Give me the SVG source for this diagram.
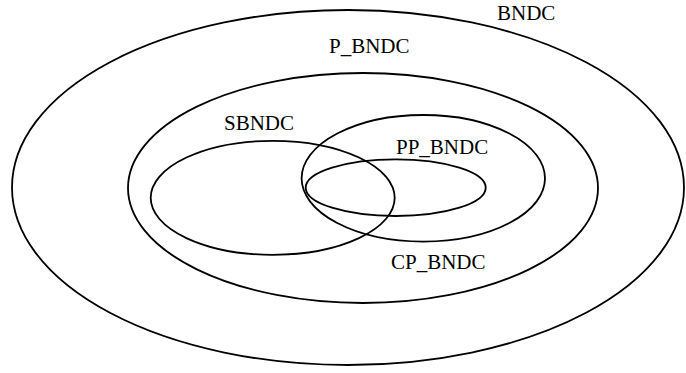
<svg xmlns="http://www.w3.org/2000/svg" width="686" height="373" viewBox="0 0 686 373">
  <style>
    .set { fill: none; stroke: #000; stroke-width: 1.8; }
    .lbl { font-family: "Liberation Serif", "Times New Roman", serif; font-size: 21px; fill: #000; }
  </style>
  <rect width="686" height="373" fill="#fff"/>
  <g id="BNDC">
    <ellipse class="set" cx="348" cy="187.5" rx="336" ry="177.5"/>
    <text class="lbl" x="497" y="20">BNDC</text>
  </g>
  <g id="P_BNDC">
    <ellipse class="set" cx="363" cy="188" rx="235" ry="115"/>
    <text class="lbl" x="329" y="53">P_BNDC</text>
  </g>
  <g id="SBNDC">
    <ellipse class="set" cx="272.7" cy="197.8" rx="122" ry="57"/>
    <text class="lbl" x="224" y="130">SBNDC</text>
  </g>
  <g id="CP_BNDC">
    <ellipse class="set" cx="423.3" cy="178.3" rx="121.7" ry="63.3"/>
    <text class="lbl" x="391" y="269">CP_BNDC</text>
  </g>
  <g id="PP_BNDC">
    <ellipse class="set" cx="395.7" cy="187.7" rx="90" ry="28.3"/>
    <text class="lbl" x="396" y="154">PP_BNDC</text>
  </g>
</svg>
